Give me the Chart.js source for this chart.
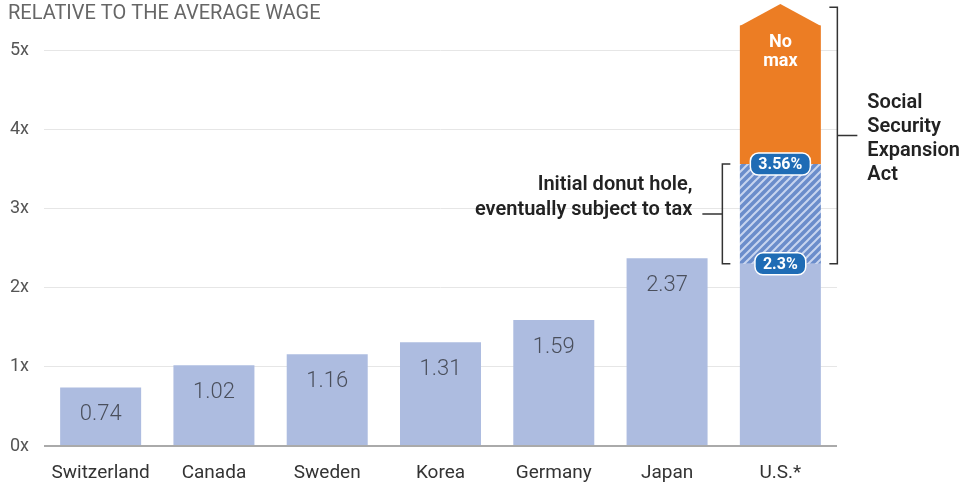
<!DOCTYPE html>
<html>
<head>
<meta charset="utf-8">
<script src="https://cdn.jsdelivr.net/npm/chart.js@4.4.0/dist/chart.umd.min.js"></script>
<style>
html, body { margin: 0; padding: 0; background: #fff; }
#wrap { width: 964px; height: 484px; position: relative; }
</style>
</head>
<body>
<div id="wrap"><canvas id="chart" width="964" height="484"></canvas></div>
<script>
// data
var countries = ['Switzerland', 'Canada', 'Sweden', 'Korea', 'Germany', 'Japan', 'U.S.*'];
var wageBase = [0.74, 1.02, 1.16, 1.31, 1.59, 2.37, 2.3];
var valueLabels = ['0.74', '1.02', '1.16', '1.31', '1.59', '2.37', ''];
var donutHole = [null, null, null, null, null, null, 1.26];   // 2.3 -> 3.56
var noMax = [null, null, null, null, null, null, 1.75];       // 3.56 -> top of the arrow body
var arrowTip = 5.58;
var badgeValues = [3.56, 2.3];
var badgeLabels = ['3.56%', '2.3%'];
var socialBracket = [2.3, 5.54];
var donutBracket = [2.3, 3.56];
var yTickValues = [0, 1, 2, 3, 4, 5];

var FONT = 'Roboto, "Open Sans", sans-serif';
var BLUE_LIGHT = '#adbce0';
var ORANGE = '#ec7d24';
var BADGE = '#1f6cb5';

function makeHatch() {
    var s = 8;
    var c = document.createElement('canvas');
    c.width = s; c.height = s;
    var g = c.getContext('2d');
    g.fillStyle = '#6b8dcb';
    g.fillRect(0, 0, s, s);
    g.strokeStyle = '#c8d5ef';
    g.lineWidth = 2;
    g.beginPath();
    g.moveTo(0, s); g.lineTo(s, 0);
    g.moveTo(-s / 2, s / 2); g.lineTo(s / 2, -s / 2);
    g.moveTo(s / 2, s * 1.5); g.lineTo(s * 1.5, s / 2);
    g.stroke();
    return g.createPattern(c, 'repeat');
}

function roundRect(ctx, x, y, w, h, r) {
    ctx.beginPath();
    ctx.moveTo(x + r, y);
    ctx.lineTo(x + w - r, y);
    ctx.arcTo(x + w, y, x + w, y + r, r);
    ctx.lineTo(x + w, y + h - r);
    ctx.arcTo(x + w, y + h, x + w - r, y + h, r);
    ctx.lineTo(x + r, y + h);
    ctx.arcTo(x, y + h, x, y + h - r, r);
    ctx.lineTo(x, y + r);
    ctx.arcTo(x, y, x + r, y, r);
    ctx.closePath();
}

var extras = {
    id: 'extras',
    afterDatasetsDraw: function(chart) {
        var ctx = chart.ctx;
        var y = chart.scales.y;
        var base = chart.getDatasetMeta(0).data;
        var top = chart.getDatasetMeta(2).data[6];

        ctx.save();
        // title
        ctx.fillStyle = '#666';
        ctx.font = '20px ' + FONT;
        ctx.textAlign = 'left';
        ctx.textBaseline = 'alphabetic';
        ctx.fillText('RELATIVE TO THE AVERAGE WAGE', 8, 19);

        // values inside bars
        ctx.fillStyle = '#4a4f5c';
        ctx.font = '300 22px ' + FONT;
        ctx.textAlign = 'center';
        ctx.textBaseline = 'middle';
        for (var i = 0; i < base.length; i++) {
            if (valueLabels[i]) ctx.fillText(valueLabels[i], base[i].x, base[i].y + 27);
        }

        // arrow head on the orange bar
        var half = top.width / 2;
        ctx.fillStyle = ORANGE;
        ctx.beginPath();
        ctx.moveTo(top.x - half, top.y + 0.5);
        ctx.lineTo(top.x, y.getPixelForValue(arrowTip));
        ctx.lineTo(top.x + half, top.y + 0.5);
        ctx.closePath();
        ctx.fill();

        ctx.fillStyle = '#fff';
        ctx.font = 'bold 18px ' + FONT;
        ctx.fillText('No', top.x, 42);
        ctx.fillText('max', top.x, 61);

        // badges
        ctx.font = 'bold 16px ' + FONT;
        for (var b = 0; b < badgeValues.length; b++) {
            var by = y.getPixelForValue(badgeValues[b]);
            var w = ctx.measureText(badgeLabels[b]).width + 16;
            roundRect(ctx, top.x - w / 2, by - 11, w, 22, 8);
            ctx.fillStyle = BADGE;
            ctx.fill();
            ctx.strokeStyle = '#fff';
            ctx.lineWidth = 1.5;
            ctx.stroke();
            ctx.fillStyle = '#fff';
            ctx.fillText(badgeLabels[b], top.x, by + 1);
        }

        // brackets
        ctx.strokeStyle = '#333';
        ctx.lineWidth = 1.5;
        var rx = top.x + half + 16.5;
        var r0 = y.getPixelForValue(socialBracket[0]);
        var r1 = y.getPixelForValue(socialBracket[1]);
        ctx.beginPath();
        ctx.moveTo(rx - 8, r1); ctx.lineTo(rx, r1); ctx.lineTo(rx, r0); ctx.lineTo(rx - 8, r0);
        ctx.moveTo(rx, (r0 + r1) / 2); ctx.lineTo(rx + 20, (r0 + r1) / 2);
        ctx.stroke();

        var lx = top.x - half - 17.5;
        var l0 = y.getPixelForValue(donutBracket[0]);
        var l1 = y.getPixelForValue(donutBracket[1]);
        ctx.beginPath();
        ctx.moveTo(lx + 8, l1); ctx.lineTo(lx, l1); ctx.lineTo(lx, l0); ctx.lineTo(lx + 8, l0);
        ctx.moveTo(lx, (l0 + l1) / 2); ctx.lineTo(lx - 20, (l0 + l1) / 2);
        ctx.stroke();

        ctx.fillStyle = '#222';
        ctx.font = '600 20px ' + FONT;
        ctx.textBaseline = 'alphabetic';
        ctx.textAlign = 'left';
        var lines = ['Social', 'Security', 'Expansion', 'Act'];
        for (var k = 0; k < lines.length; k++) ctx.fillText(lines[k], rx + 30, 108 + k * 24);
        ctx.textAlign = 'right';
        ctx.fillText('Initial donut hole,', lx - 30, 190);
        ctx.fillText('eventually subject to tax', lx - 30, 215);
        ctx.restore();
    }
};

var ctx = document.getElementById('chart').getContext('2d');
var chart = new Chart(ctx, {
    type: 'bar',
    data: {
        labels: countries,
        datasets: [
            { data: wageBase, backgroundColor: BLUE_LIGHT },
            { data: donutHole, backgroundColor: makeHatch() },
            { data: noMax, backgroundColor: ORANGE, clip: false }
        ]
    },
    options: {
        responsive: false,
        animation: false,
        devicePixelRatio: 1,
        layout: { padding: { top: 50, right: 127, left: 10, bottom: 0 } },
        datasets: { bar: { categoryPercentage: 1, barPercentage: 0.715 } },
        plugins: { legend: { display: false }, tooltip: { enabled: false } },
        scales: {
            x: {
                stacked: true,
                grid: { display: false },
                border: { display: false },
                ticks: { color: '#333', font: { family: FONT, size: 19 }, padding: 8, maxRotation: 0 },
                afterFit: function(s) { s.height = 38; }
            },
            y: {
                stacked: true,
                min: 0,
                max: 5,
                afterBuildTicks: function(s) { s.ticks = yTickValues.map(function(v) { return { value: v }; }); },
                grid: {
                    drawTicks: false,
                    color: function(c) { return c.tick && c.tick.value === 0 ? '#aaa' : '#e6e6e6'; },
                    lineWidth: function(c) { return c.tick && c.tick.value === 0 ? 2 : 1; }
                },
                border: { display: false },
                ticks: {
                    color: '#555',
                    font: { family: FONT, size: 18 },
                    crossAlign: 'far',
                    padding: 10,
                    callback: function(v) { return v + 'x'; }
                },
                afterFit: function(s) { s.width = 34; }
            }
        }
    },
    plugins: [extras]
});
</script>
</body>
</html>
